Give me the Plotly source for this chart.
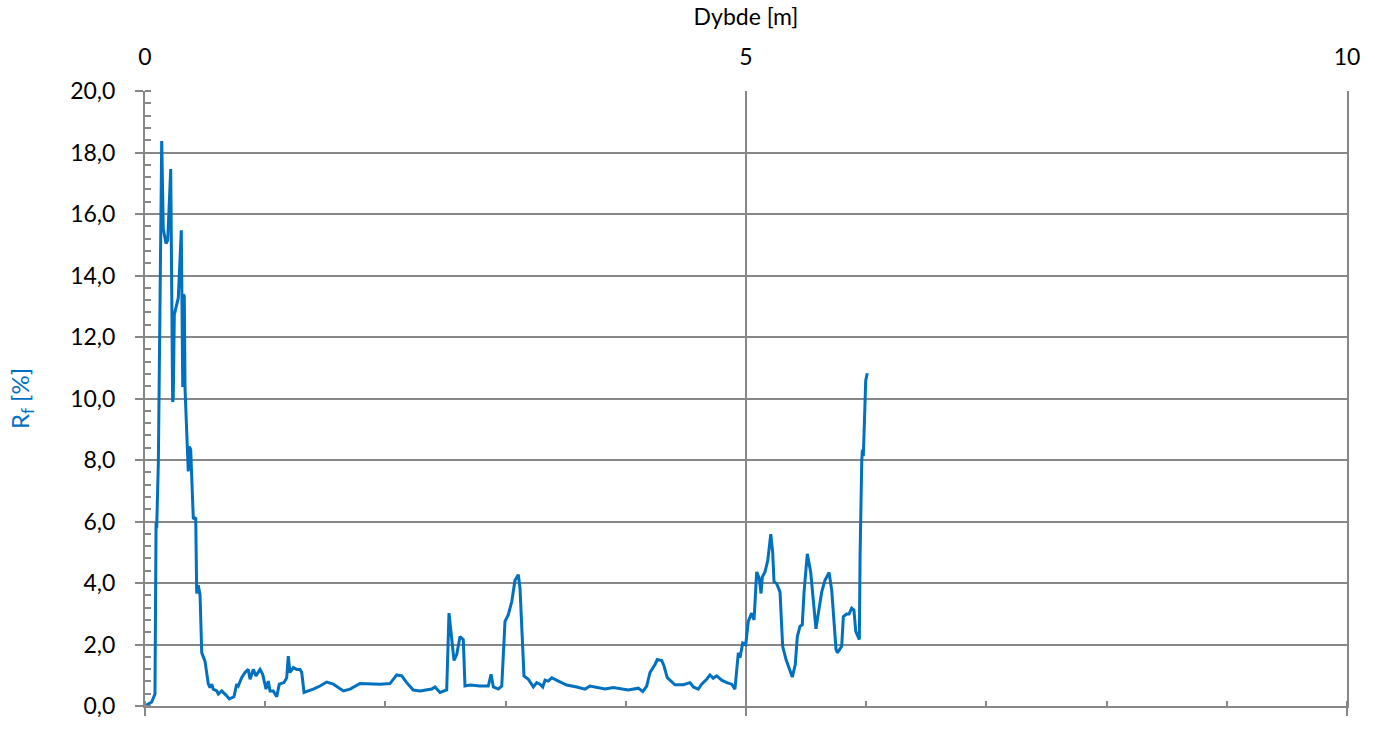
import plotly.graph_objects as go

depth_m = [0.000, 0.056, 0.083, 0.092, 0.097, 0.111, 0.139, 0.152, 0.175, 0.189,
           0.214, 0.230, 0.235, 0.244, 0.277, 0.302, 0.314, 0.319, 0.327, 0.333,
           0.360, 0.369, 0.380, 0.402, 0.422, 0.430, 0.443, 0.458, 0.472, 0.499,
           0.527, 0.541, 0.555, 0.568, 0.597, 0.610, 0.638, 0.680, 0.701, 0.740,
           0.763, 0.776, 0.804, 0.832, 0.859, 0.874, 0.901, 0.923, 0.957, 0.979,
           1.007, 1.026, 1.040, 1.067, 1.096, 1.117, 1.156, 1.179, 1.192, 1.206,
           1.234, 1.262, 1.290, 1.304, 1.323, 1.400, 1.456, 1.512, 1.567, 1.650,
           1.706, 1.789, 1.955, 2.038, 2.094, 2.136, 2.177, 2.232, 2.288, 2.385,
           2.413, 2.454, 2.510, 2.529, 2.571, 2.593, 2.621, 2.648, 2.662, 2.704,
           2.787, 2.856, 2.879, 2.898, 2.939, 2.968, 2.995, 3.022, 3.051, 3.078,
           3.106, 3.120, 3.153, 3.189, 3.231, 3.259, 3.286, 3.309, 3.328, 3.355,
           3.384, 3.439, 3.508, 3.592, 3.661, 3.702, 3.827, 3.896, 4.021, 4.104,
           4.141, 4.174, 4.201, 4.243, 4.262, 4.299, 4.318, 4.345, 4.409, 4.478,
           4.534, 4.562, 4.603, 4.631, 4.673, 4.700, 4.728, 4.756, 4.798, 4.839,
           4.881, 4.908, 4.923, 4.936, 4.950, 4.973, 4.998, 5.019, 5.047, 5.067,
           5.089, 5.111, 5.125, 5.136, 5.158, 5.181, 5.206, 5.222, 5.233, 5.255,
           5.283, 5.305, 5.333, 5.366, 5.385, 5.410, 5.427, 5.449, 5.468, 5.483,
           5.510, 5.538, 5.560, 5.582, 5.602, 5.630, 5.657, 5.691, 5.713, 5.732,
           5.749, 5.760, 5.796, 5.810, 5.838, 5.857, 5.879, 5.898, 5.913, 5.943,
           5.949, 5.963, 5.968, 5.976, 5.984, 5.996, 6.009]

rf_pct = [0.00, 0.13, 0.39, 5.97, 5.77, 7.90, 18.37, 15.52, 15.04, 15.15,
          17.46, 9.89, 9.99, 12.73, 13.27, 15.47, 10.37, 13.38, 13.33, 10.32,
          7.63, 8.44, 8.34, 6.08, 6.13, 3.66, 3.93, 3.61, 1.73, 1.46,
          0.71, 0.60, 0.71, 0.55, 0.49, 0.39, 0.49, 0.33, 0.23, 0.30,
          0.71, 0.65, 0.92, 1.09, 1.19, 0.87, 1.19, 0.98, 1.19, 1.03,
          0.55, 0.81, 0.49, 0.49, 0.30, 0.71, 0.76, 0.92, 1.62, 1.09,
          1.25, 1.19, 1.19, 1.09, 0.44, 0.55, 0.65, 0.78, 0.71, 0.49,
          0.55, 0.73, 0.71, 0.73, 1.01, 0.98, 0.76, 0.52, 0.49, 0.55,
          0.62, 0.44, 0.52, 3.02, 1.48, 1.67, 2.26, 2.16, 0.65, 0.68,
          0.65, 0.65, 1.03, 0.62, 0.55, 0.65, 2.75, 2.96, 3.39, 4.09,
          4.27, 3.82, 0.98, 0.87, 0.62, 0.76, 0.71, 0.62, 0.84, 0.81,
          0.92, 0.81, 0.68, 0.62, 0.55, 0.65, 0.55, 0.60, 0.52, 0.58,
          0.47, 0.65, 1.09, 1.35, 1.51, 1.48, 1.30, 0.92, 0.69, 0.69,
          0.76, 0.62, 0.55, 0.71, 0.87, 1.01, 0.90, 0.98, 0.84, 0.76,
          0.71, 0.55, 1.14, 1.73, 1.57, 2.05, 2.00, 2.75, 3.02, 2.80,
          4.36, 4.14, 3.66, 4.20, 4.36, 4.73, 5.59, 5.00, 4.04, 3.98,
          3.71, 1.94, 1.51, 1.14, 0.94, 1.35, 2.26, 2.59, 2.64, 3.71,
          4.95, 4.36, 3.34, 2.51, 3.02, 3.71, 4.09, 4.34, 3.77, 2.75,
          1.84, 1.73, 1.94, 2.91, 2.99, 2.99, 3.18, 3.12, 2.43, 2.16,
          4.90, 7.95, 8.33, 8.12, 9.19, 10.59, 10.82]

x_range = [0, 10]
y_range = [0, 20]
x_label_vals = [0, 5, 10]
x_label_text = ["0", "5", "10"]

GRID = "#878787"
BLUE = "#0070C0"
FONT = "Lato"

fig = go.Figure()
fig.add_trace(go.Scatter(x=depth_m, y=rf_pct, mode="lines",
                         line=dict(color=BLUE, width=3),
                         showlegend=False, hoverinfo="x+y"))
# invisible helper so the top (label) axis is drawn
fig.add_trace(go.Scatter(x=depth_m, y=rf_pct, xaxis="x2", mode="lines",
                         line=dict(color="rgba(0,0,0,0)", width=0),
                         showlegend=False, hoverinfo="skip"))

fig.update_layout(
    width=1375, height=731,
    margin=dict(l=145, r=28, t=91, b=19),
    paper_bgcolor="white", plot_bgcolor="white",
    separators=",.",
    font=dict(family=FONT, size=23, color="black"),
    showlegend=False,
    xaxis=dict(
        range=x_range, side="bottom", anchor="y",
        tick0=0, dtick=5, showticklabels=False,
        ticks="outside", ticklen=8, tickwidth=2, tickcolor=GRID,
        showgrid=True, gridcolor=GRID, gridwidth=2,
        showline=True, linecolor=GRID, linewidth=2,
        zeroline=False,
        minor=dict(dtick=1, tick0=0, ticks="inside", ticklen=5,
                   tickwidth=2, tickcolor=GRID, showgrid=False),
    ),
    xaxis2=dict(
        range=x_range, overlaying="x", side="top", anchor="y",
        tickmode="array", tickvals=x_label_vals, ticktext=x_label_text,
        ticks="", showgrid=False, showline=False, zeroline=False,
        ticklabelstandoff=20,
        tickfont=dict(family=FONT, size=23, color="black"),
        title=dict(text="Dybde [m]", standoff=10,
                   font=dict(family=FONT, size=23, color="black")),
    ),
    yaxis=dict(
        range=y_range, tick0=0, dtick=2, tickformat=".1f",
        ticks="outside", ticklen=8, tickwidth=2, tickcolor=GRID,
        ticklabelstandoff=15,
        showgrid=True, gridcolor=GRID, gridwidth=2,
        showline=True, mirror=True, linecolor=GRID, linewidth=2,
        zeroline=False,
        minor=dict(dtick=0.4, tick0=0, ticks="inside", ticklen=6,
                   tickwidth=2, tickcolor=GRID, showgrid=False),
        title=dict(text="R<sub>f</sub> [%]", standoff=34,
                   font=dict(family=FONT, size=24, color=BLUE)),
    ),
)

fig.write_html("out.html", config={"displayModeBar": False},
               post_script="document.body.style.margin='0';document.body.style.overflow='hidden';")
